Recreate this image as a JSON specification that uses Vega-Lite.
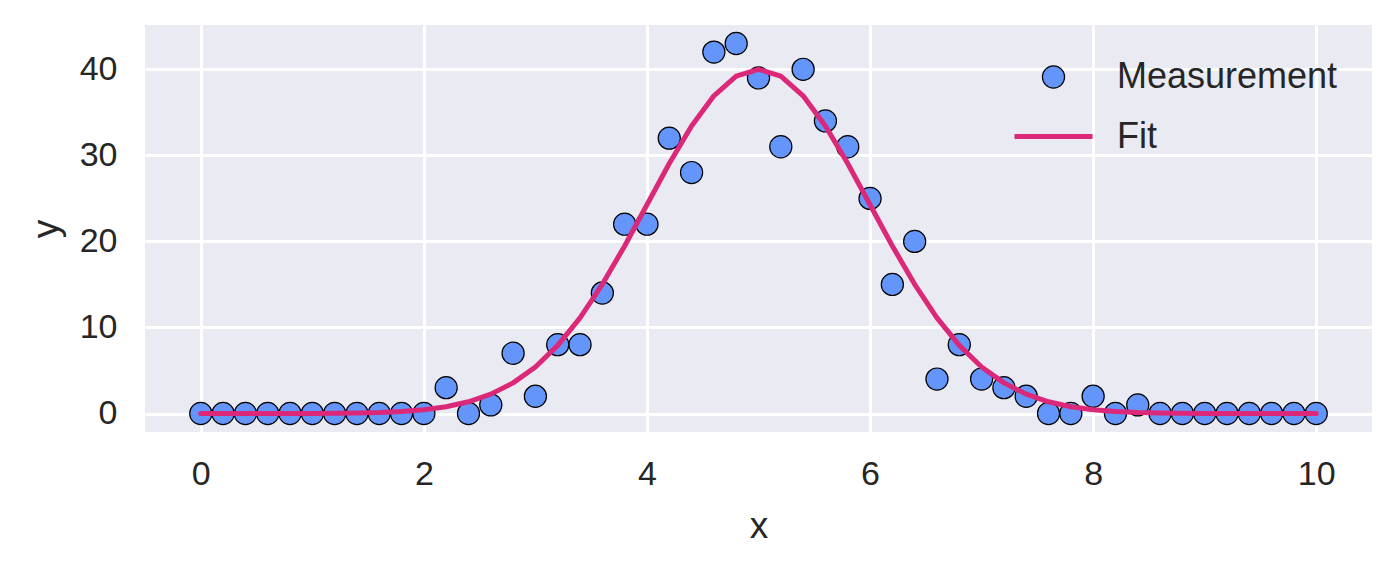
{
  "$schema": "https://vega.github.io/schema/vega-lite/v6.json",
  "width": 1227,
  "height": 407,
  "autosize": {"type": "none"},
  "padding": {"left": 145, "top": 25, "right": 28, "bottom": 139},
  "background": "white",
  "config": {
    "view": {"fill": "#EAEAF2", "stroke": null},
    "font": "Liberation Sans",
    "axis": {
      "grid": true, "gridColor": "white", "gridWidth": 3,
      "domain": false, "ticks": false, "tickSize": 0,
      "labelFont": "Liberation Sans", "titleFont": "Liberation Sans",
      "labelFontSize": 34, "labelColor": "#262626",
      "titleFontSize": 37, "titleColor": "#262626", "titleFontWeight": "normal",
      "labelFlush": false, "labelOverlap": false
    },
    "legend": {
      "orient": "none", "legendX": 867, "legendY": 34,
      "title": null, "padding": 0,
      "labelFont": "Liberation Sans", "labelFontSize": 36, "labelColor": "#262626",
      "labelLimit": 0,
      "labelOffset": 22, "rowPadding": -22,
      "symbolOpacity": 1
    }
  },
  "datasets": {
    "meas": [
      {"x": 0, "y": 0, "series": "Measurement"},
      {"x": 0.2, "y": 0, "series": "Measurement"},
      {"x": 0.4, "y": 0, "series": "Measurement"},
      {"x": 0.6, "y": 0, "series": "Measurement"},
      {"x": 0.8, "y": 0, "series": "Measurement"},
      {"x": 1.0, "y": 0, "series": "Measurement"},
      {"x": 1.2, "y": 0, "series": "Measurement"},
      {"x": 1.4, "y": 0, "series": "Measurement"},
      {"x": 1.6, "y": 0, "series": "Measurement"},
      {"x": 1.8, "y": 0, "series": "Measurement"},
      {"x": 2.0, "y": 0, "series": "Measurement"},
      {"x": 2.2, "y": 3, "series": "Measurement"},
      {"x": 2.4, "y": 0, "series": "Measurement"},
      {"x": 2.6, "y": 1, "series": "Measurement"},
      {"x": 2.8, "y": 7, "series": "Measurement"},
      {"x": 3.0, "y": 2, "series": "Measurement"},
      {"x": 3.2, "y": 8, "series": "Measurement"},
      {"x": 3.4, "y": 8, "series": "Measurement"},
      {"x": 3.6, "y": 14, "series": "Measurement"},
      {"x": 3.8, "y": 22, "series": "Measurement"},
      {"x": 4.0, "y": 22, "series": "Measurement"},
      {"x": 4.2, "y": 32, "series": "Measurement"},
      {"x": 4.4, "y": 28, "series": "Measurement"},
      {"x": 4.6, "y": 42, "series": "Measurement"},
      {"x": 4.8, "y": 43, "series": "Measurement"},
      {"x": 5.0, "y": 39, "series": "Measurement"},
      {"x": 5.2, "y": 31, "series": "Measurement"},
      {"x": 5.4, "y": 40, "series": "Measurement"},
      {"x": 5.6, "y": 34, "series": "Measurement"},
      {"x": 5.8, "y": 31, "series": "Measurement"},
      {"x": 6.0, "y": 25, "series": "Measurement"},
      {"x": 6.2, "y": 15, "series": "Measurement"},
      {"x": 6.4, "y": 20, "series": "Measurement"},
      {"x": 6.6, "y": 4, "series": "Measurement"},
      {"x": 6.8, "y": 8, "series": "Measurement"},
      {"x": 7.0, "y": 4, "series": "Measurement"},
      {"x": 7.2, "y": 3, "series": "Measurement"},
      {"x": 7.4, "y": 2, "series": "Measurement"},
      {"x": 7.6, "y": 0, "series": "Measurement"},
      {"x": 7.8, "y": 0, "series": "Measurement"},
      {"x": 8.0, "y": 2, "series": "Measurement"},
      {"x": 8.2, "y": 0, "series": "Measurement"},
      {"x": 8.4, "y": 1, "series": "Measurement"},
      {"x": 8.6, "y": 0, "series": "Measurement"},
      {"x": 8.8, "y": 0, "series": "Measurement"},
      {"x": 9.0, "y": 0, "series": "Measurement"},
      {"x": 9.2, "y": 0, "series": "Measurement"},
      {"x": 9.4, "y": 0, "series": "Measurement"},
      {"x": 9.6, "y": 0, "series": "Measurement"},
      {"x": 9.8, "y": 0, "series": "Measurement"},
      {"x": 10.0, "y": 0, "series": "Measurement"}
    ],
    "fit": [
      {"x": 0, "y": 0, "series": "Fit"},
      {"x": 0.2, "y": 0, "series": "Fit"},
      {"x": 0.4, "y": 0, "series": "Fit"},
      {"x": 0.6, "y": 0, "series": "Fit"},
      {"x": 0.8, "y": 0.005, "series": "Fit"},
      {"x": 1.0, "y": 0.013, "series": "Fit"},
      {"x": 1.2, "y": 0.03, "series": "Fit"},
      {"x": 1.4, "y": 0.06, "series": "Fit"},
      {"x": 1.6, "y": 0.12, "series": "Fit"},
      {"x": 1.8, "y": 0.24, "series": "Fit"},
      {"x": 2.0, "y": 0.44, "series": "Fit"},
      {"x": 2.2, "y": 0.79, "series": "Fit"},
      {"x": 2.4, "y": 1.36, "series": "Fit"},
      {"x": 2.6, "y": 2.25, "series": "Fit"},
      {"x": 2.8, "y": 3.56, "series": "Fit"},
      {"x": 3.0, "y": 5.41, "series": "Fit"},
      {"x": 3.2, "y": 7.92, "series": "Fit"},
      {"x": 3.4, "y": 11.12, "series": "Fit"},
      {"x": 3.6, "y": 15.01, "series": "Fit"},
      {"x": 3.8, "y": 19.47, "series": "Fit"},
      {"x": 4.0, "y": 24.26, "series": "Fit"},
      {"x": 4.2, "y": 29.05, "series": "Fit"},
      {"x": 4.4, "y": 33.41, "series": "Fit"},
      {"x": 4.6, "y": 36.92, "series": "Fit"},
      {"x": 4.8, "y": 39.21, "series": "Fit"},
      {"x": 5.0, "y": 40.0, "series": "Fit"},
      {"x": 5.2, "y": 39.21, "series": "Fit"},
      {"x": 5.4, "y": 36.92, "series": "Fit"},
      {"x": 5.6, "y": 33.41, "series": "Fit"},
      {"x": 5.8, "y": 29.05, "series": "Fit"},
      {"x": 6.0, "y": 24.26, "series": "Fit"},
      {"x": 6.2, "y": 19.47, "series": "Fit"},
      {"x": 6.4, "y": 15.01, "series": "Fit"},
      {"x": 6.6, "y": 11.12, "series": "Fit"},
      {"x": 6.8, "y": 7.92, "series": "Fit"},
      {"x": 7.0, "y": 5.41, "series": "Fit"},
      {"x": 7.2, "y": 3.56, "series": "Fit"},
      {"x": 7.4, "y": 2.25, "series": "Fit"},
      {"x": 7.6, "y": 1.36, "series": "Fit"},
      {"x": 7.8, "y": 0.79, "series": "Fit"},
      {"x": 8.0, "y": 0.44, "series": "Fit"},
      {"x": 8.2, "y": 0.24, "series": "Fit"},
      {"x": 8.4, "y": 0.12, "series": "Fit"},
      {"x": 8.6, "y": 0.06, "series": "Fit"},
      {"x": 8.8, "y": 0.03, "series": "Fit"},
      {"x": 9.0, "y": 0.013, "series": "Fit"},
      {"x": 9.2, "y": 0.005, "series": "Fit"},
      {"x": 9.4, "y": 0, "series": "Fit"},
      {"x": 9.6, "y": 0, "series": "Fit"},
      {"x": 9.8, "y": 0, "series": "Fit"},
      {"x": 10.0, "y": 0, "series": "Fit"}
    ]
  },
  "encoding": {
    "x": {
      "field": "x", "type": "quantitative",
      "scale": {"domain": [-0.5, 10.5], "nice": false, "zero": false},
      "axis": {"values": [0, 2, 4, 6, 8, 10], "title": "x", "labelPadding": 25, "titlePadding": 17}
    },
    "y": {
      "field": "y", "type": "quantitative",
      "scale": {"domain": [-2.15, 45.15], "nice": false, "zero": false},
      "axis": {"values": [0, 10, 20, 30, 40], "title": "y", "labelPadding": 28, "titlePadding": 14}
    }
  },
  "layer": [
    {
      "data": {"name": "meas"},
      "mark": {"type": "point", "filled": true, "opacity": 1, "strokeOpacity": 1, "fillOpacity": 1},
      "encoding": {
        "fill": {
          "field": "series", "type": "nominal",
          "scale": {"domain": ["Measurement", "Fit"], "range": ["#6495FA", "#DC2878"]}
        },
        "stroke": {
          "field": "series", "type": "nominal",
          "scale": {"domain": ["Measurement", "Fit"], "range": ["black", "#DC2878"]}
        },
        "shape": {
          "field": "series", "type": "nominal",
          "scale": {"domain": ["Measurement", "Fit"], "range": ["circle", "stroke"]}
        },
        "size": {
          "field": "series", "type": "ordinal",
          "scale": {"domain": ["Measurement", "Fit"], "range": [490, 6084]}
        },
        "strokeWidth": {
          "field": "series", "type": "ordinal",
          "scale": {"domain": ["Measurement", "Fit"], "range": [1.2, 5]}
        }
      }
    },
    {
      "data": {"name": "fit"},
      "mark": {"type": "line", "strokeCap": "round", "strokeJoin": "round"},
      "encoding": {
        "stroke": {"field": "series", "type": "nominal"},
        "strokeWidth": {"field": "series", "type": "ordinal"}
      }
    }
  ]
}
